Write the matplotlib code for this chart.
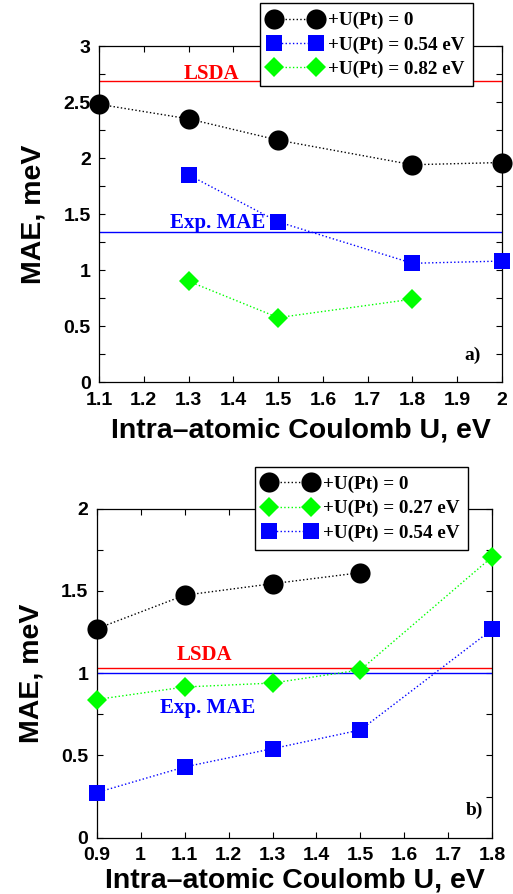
import matplotlib
matplotlib.use('Agg')
import matplotlib.pyplot as plt
from matplotlib.ticker import MultipleLocator, FormatStrFormatter

# panel a)
u_a = [1.1, 1.3, 1.5, 1.8, 2.0]
mae_a_u0 = [2.48, 2.35, 2.16, 1.94, 1.96]
u_a_054 = [1.3, 1.5, 1.8, 2.0]
mae_a_054 = [1.85, 1.43, 1.06, 1.08]
u_a_082 = [1.3, 1.5, 1.8]
mae_a_082 = [0.90, 0.575, 0.74]
lsda_a = 2.685
exp_a = 1.343

# panel b)
u_b = [0.9, 1.1, 1.3, 1.5, 1.8]
mae_b_u0 = [1.27, 1.474, 1.544, 1.611]
mae_b_027 = [0.84, 0.916, 0.94, 1.02, 1.708]
mae_b_054 = [0.274, 0.43, 0.541, 0.655, 1.267]
lsda_b = 1.03
exp_b = 1.0

SANS = 'Liberation Sans'
SERIF = 'Liberation Serif'
BLUE = '#0000ff'
GREEN = '#00ff00'

fig = plt.figure(figsize=(5.13, 8.94), dpi=100)


def style_axes(ax, xmin, xmax, ymax, xticks, xpad):
    ax.set_xlim(xmin, xmax)
    ax.set_ylim(0, ymax)
    ax.set_xticks(xticks)
    ax.xaxis.set_minor_locator(MultipleLocator(0.1))
    ax.yaxis.set_major_locator(MultipleLocator(0.5))
    ax.yaxis.set_minor_locator(MultipleLocator(0.25))
    ax.yaxis.set_major_formatter(FormatStrFormatter('%g'))
    ax.tick_params(which='both', direction='in', top=True, right=True,
                   length=4, width=0.8, labelsize=14)
    ax.tick_params(axis='y', pad=6)
    ax.tick_params(axis='x', pad=7)
    ax.set_xticklabels(['%g' % t for t in xticks])
    for lab in ax.get_xticklabels() + ax.get_yticklabels():
        lab.set_fontfamily(SANS)
        lab.set_fontweight('bold')
    for s in ax.spines.values():
        s.set_linewidth(0.9)
    ax.set_xlabel('Intra\u2013atomic Coulomb U, eV', fontsize=20.5,
                  fontfamily=SANS, fontweight='bold', labelpad=xpad)
    ax.set_ylabel('MAE, meV', fontsize=20.5, fontfamily=SANS,
                  fontweight='bold', labelpad=12)


def series(ax, x, y, color, marker, ms, label):
    ax.plot(x, y, linestyle=':', linewidth=1.0, color=color, marker=marker,
            markersize=ms, markeredgewidth=0, label=label, clip_on=False,
            zorder=4)


def add_legend(ax, anchor):
    leg = ax.legend(loc='upper left', bbox_to_anchor=anchor,
                    bbox_transform=fig.transFigure, numpoints=2,
                    handlelength=2.75, handletextpad=0.35, borderpad=0.45,
                    labelspacing=0.35, borderaxespad=0,
                    prop={'family': SERIF, 'weight': 'bold', 'size': 13.8},
                    fancybox=False, framealpha=1, edgecolor='black')
    leg.get_frame().set_linewidth(1.0)
    leg.set_zorder(10)
    return leg


def note(ax, x, y, s, color, size=15):
    ax.text(x, y, s, color=color, fontfamily=SERIF, fontweight='bold',
            fontsize=size, ha='center', va='baseline')


# ---- a)
ax1 = fig.add_axes([0.193, 0.5727, 0.7856, 0.3758])
ax1.axhline(lsda_a, color='red', linewidth=1.0, zorder=2)
ax1.axhline(exp_a, color=BLUE, linewidth=1.0, zorder=2)
series(ax1, u_a, mae_a_u0, 'black', 'o', 14.5, '+U(Pt) = 0')
series(ax1, u_a_054, mae_a_054, BLUE, 's', 12, '+U(Pt) = 0.54 eV')
series(ax1, u_a_082, mae_a_082, GREEN, 'D', 10.2, '+U(Pt) = 0.82 eV')
style_axes(ax1, 1.1, 2.0, 3.0,
           [1.1, 1.2, 1.3, 1.4, 1.5, 1.6, 1.7, 1.8, 1.9, 2.0], 6)
note(ax1, 1.352, 2.71, 'LSDA', 'red')
note(ax1, 1.366, 1.375, 'Exp. MAE', BLUE)
note(ax1, 1.935, 0.2, 'a)', 'black', 14)
add_legend(ax1, (0.5068, 0.9963))

# ---- b)
ax2 = fig.add_axes([0.1885, 0.063, 0.7712, 0.368])
ax2.axhline(lsda_b, color='red', linewidth=1.0, zorder=2)
ax2.axhline(exp_b, color=BLUE, linewidth=1.0, zorder=2)
series(ax2, u_b[:4], mae_b_u0, 'black', 'o', 14.5, '+U(Pt) = 0')
series(ax2, u_b, mae_b_027, GREEN, 'D', 10.2, '+U(Pt) = 0.27 eV')
series(ax2, u_b, mae_b_054, BLUE, 's', 12, '+U(Pt) = 0.54 eV')
style_axes(ax2, 0.9, 1.8, 2.0,
           [0.9, 1.0, 1.1, 1.2, 1.3, 1.4, 1.5, 1.6, 1.7, 1.8], 2)
note(ax2, 1.145, 1.08, 'LSDA', 'red')
note(ax2, 1.153, 0.756, 'Exp. MAE', BLUE)
note(ax2, 1.76, 0.138, 'b)', 'black', 14)
add_legend(ax2, (0.497, 0.4776))

fig.savefig('out.png', dpi=100)
